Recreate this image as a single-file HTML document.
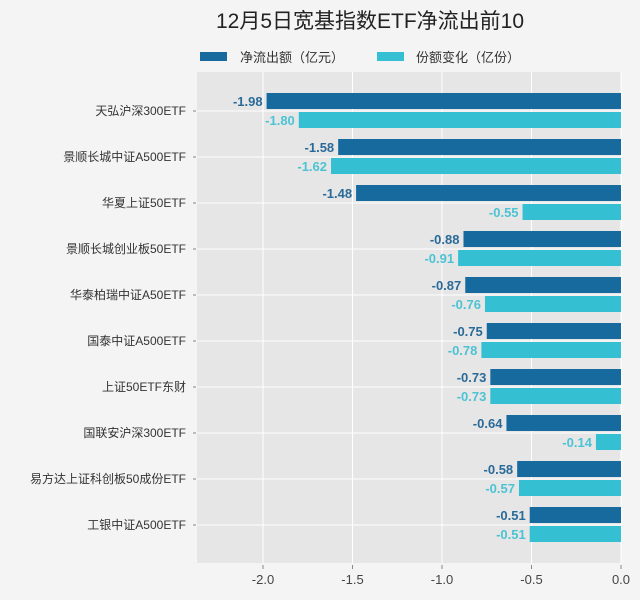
<!DOCTYPE html>
<html><head><meta charset="utf-8"><style>
body{margin:0;background:#f4f4f4;font-family:"Liberation Sans","Noto Sans CJK SC",sans-serif;}
svg{display:block}
</style></head><body>
<svg id="c" width="640" height="600">
<text x="370" y="28" font-size="21" text-anchor="middle" fill="#222">12月5日宽基指数ETF净流出前10</text>
<g>
<rect x="200" y="52" width="27" height="9" fill="#166a9e"/>
<text x="240" y="62" font-size="13" fill="#333">净流出额（亿元）</text>
<rect x="377" y="52" width="27" height="9" fill="#34bfd3"/>
<text x="416" y="62" font-size="13" fill="#333">份额变化（亿份）</text>
</g>
<rect x="197" y="72" width="424" height="491" fill="#e6e6e6"/>
<g id="grid"></g><g id="bars"></g><g id="labels"></g>
</svg>
<script>
const categories=["天弘沪深300ETF","景顺长城中证A500ETF","华夏上证50ETF","景顺长城创业板50ETF","华泰柏瑞中证A50ETF","国泰中证A500ETF","上证50ETF东财","国联安沪深300ETF","易方达上证科创板50成份ETF","工银中证A500ETF"];
const netOutflow=[-1.98,-1.58,-1.48,-0.88,-0.87,-0.75,-0.73,-0.64,-0.58,-0.51];
const shareChange=[-1.80,-1.62,-0.55,-0.91,-0.76,-0.78,-0.73,-0.14,-0.57,-0.51];
const ticks=[-2.0,-1.5,-1.0,-0.5,0.0];
const NS="http://www.w3.org/2000/svg";
const x=v=>621+v*179;
const yc=i=>111+i*46;
function mk(t,a,p){const e=document.createElementNS(NS,t);for(const k in a)e.setAttribute(k,a[k]);p.appendChild(e);return e;}
const grid=document.getElementById('grid'),bars=document.getElementById('bars'),labels=document.getElementById('labels'),svg=document.getElementById('c');
ticks.forEach(t=>{
 const l=mk('line',{x1:x(t),x2:x(t),y1:72,y2:563,stroke:'#fff','stroke-width':1},grid);
 
 
 const tk=mk('line',{x1:x(t),x2:x(t),y1:565,y2:569,stroke:'#888'},grid);
 
 
 const tx=mk('text',{x:x(t),y:584,'font-size':13,'text-anchor':'middle',fill:'#444'},svg);
 tx.textContent=t.toFixed(1);
 
 
});
categories.forEach((c,i)=>{
 const g=mk('line',{x1:197,x2:621,y1:yc(i),y2:yc(i),stroke:'#fff'},grid);
 
 
 const tk=mk('line',{x1:193,x2:196,y1:yc(i),y2:yc(i),stroke:'#888'},grid);
 
 
 const t=mk('text',{x:186,y:yc(i)+4,'font-size':12,'text-anchor':'end',fill:'#333'},labels);
 t.textContent=c;
 
 
 const v1=netOutflow[i],v2=shareChange[i];
 const b1=mk('rect',{x:x(v1),y:yc(i)-18,width:x(0)-x(v1),height:16,fill:'#166a9e'},bars);
 
 
 const b2=mk('rect',{x:x(v2),y:yc(i)+1,width:x(0)-x(v2),height:16,fill:'#34bfd3'},bars);
 
 
 const l1=mk('text',{x:x(v1)-4,y:yc(i)-5,'font-size':13,'font-weight':'bold','text-anchor':'end',fill:'#2a6a98'},labels);
 l1.textContent=v1.toFixed(2);
 
 
 const l2=mk('text',{x:x(v2)-4,y:yc(i)+14,'font-size':13,'font-weight':'bold','text-anchor':'end',fill:'#4cc3d4'},labels);
 l2.textContent=v2.toFixed(2);
 
 
});
</script>
</body></html>
